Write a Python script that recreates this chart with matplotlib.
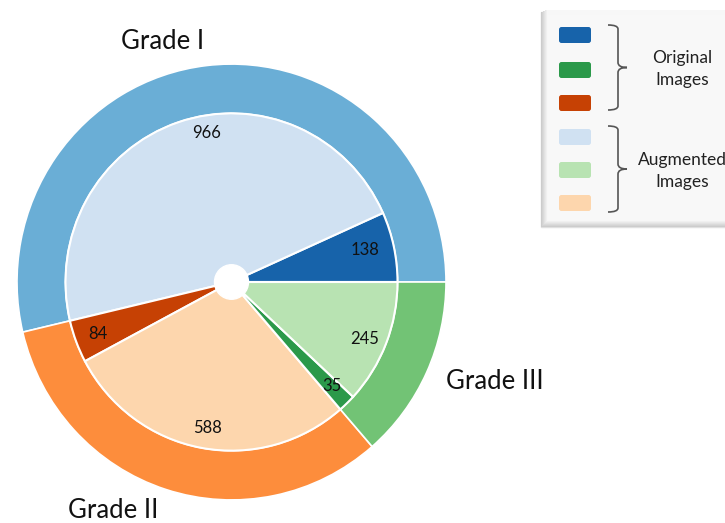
import matplotlib
matplotlib.use("Agg")
import matplotlib.pyplot as plt
import numpy as np
from matplotlib.patches import FancyBboxPatch, Circle, Rectangle
from matplotlib.path import Path
from matplotlib.patches import PathPatch

plt.rcParams['font.family'] = ['Lato', 'DejaVu Sans']

# ---- data ----
grades = ["Grade I", "Grade II", "Grade III"]
original = [138, 84, 35]
augmented = [966, 588, 245]
outer_colors = ["#6aaed6", "#fd8d3c", "#72c375"]
orig_colors = ["#1763aa", "#c64104", "#2b994a"]
aug_colors = ["#d0e1f2", "#fdd6ad", "#b8e3b2"]
legend_groups = ["Original\nImages", "Augmented\nImages"]

inner_vals = []
inner_cols = []
for o, a, co, ca in zip(original, augmented, orig_colors, aug_colors):
    inner_vals += [o, a]
    inner_cols += [co, ca]
outer_vals = [o + a for o, a in zip(original, augmented)]

W, H = 725, 523
S = 1.016  # slight vertical stretch seen in the reference


def Y(y):
    return (H - y) / S


fig = plt.figure(figsize=(W / 100, H / 100), dpi=100)
ax = fig.add_axes([0, 0, 1, 1])

cx, cy = 231.5, Y(282)
R_out = 214.5
R_in = 166

ax.pie(outer_vals, radius=R_out, center=(cx, cy), colors=outer_colors,
       startangle=0, counterclock=True,
       wedgeprops=dict(width=R_out - R_in, edgecolor='white', linewidth=1.2),
       frame=True)
wedges, _ = ax.pie(inner_vals, radius=R_in, center=(cx, cy), colors=inner_cols,
                   startangle=0, counterclock=True,
                   wedgeprops=dict(edgecolor='white', linewidth=1.5),
                   frame=True)
ax.add_patch(Circle((cx, cy), 17, facecolor='white', edgecolor='white', zorder=5))
ax.set_xlim(0, W)
ax.set_ylim(0, H / S)
ax.set_aspect(S)
ax.axis('off')

# value labels: angle offset (deg) and radius per inner wedge
ang_off = [1, -9, 0.5, 1, 0.5, -1.3]
r_lab = [137, 149, 143, 146, 143, 144]
for w, v, da, rl in zip(wedges, inner_vals, ang_off, r_lab):
    th = np.deg2rad((w.theta1 + w.theta2) / 2 + da)
    ax.text(cx + rl * np.cos(th), cy + rl * np.sin(th), str(v),
            ha='center', va='center', fontsize=12, color='#111111', zorder=6)

# grade labels
grade_pos = [(163, 42), (113, 510), (495, 382)]
for g, (x, y) in zip(grades, grade_pos):
    ax.text(x, Y(y), g, ha='center', va='center', fontsize=18.5, color='#111111')

# ---- legend box (bevelled) ----
bx0, by0, bx1, by1 = 541, 12, 745, 227
ax.add_patch(Rectangle((bx0, Y(by1)), bx1 - bx0, (by1 - by0) / S,
                       facecolor='#ffffff', edgecolor='#e0e0e0', linewidth=1, zorder=7))
n = 7
for k in range(n):
    g = 0.80 + 0.17 * k / (n - 1)
    ax.add_patch(Rectangle((bx0 + k, Y(by1 - k)), bx1 - bx0 - k, (by1 - by0 - k * 0.6) / S,
                           facecolor=(g, g, g), edgecolor='none', zorder=7))
ax.add_patch(Rectangle((bx0 + n, Y(by1 - n)), bx1 - bx0 - n, (by1 - by0 - n - 3) / S,
                       facecolor='#f8f8f8', edgecolor='none', zorder=8))

sw_cols = orig_colors[:1] + [orig_colors[2], orig_colors[1]] + [aug_colors[0], aug_colors[2], aug_colors[1]]
sw_y = [26, 61, 94, 128, 161, 194]
for c, y in zip(sw_cols, sw_y):
    ax.add_patch(FancyBboxPatch((559, Y(y + 17)), 32, 16 / S,
                                boxstyle='round,pad=0,rounding_size=2.5',
                                facecolor=c, edgecolor='none', zorder=9))


def brace(y0, y1, x0=608, x1=618, xt=627):
    ym = (y0 + y1) / 2
    verts = [(x0, Y(y0)), (x1, Y(y0)), (x1, Y(y0 + 4)),
             (x1, Y(ym - 5)),
             (x1, Y(ym)), (xt, Y(ym)), (xt, Y(ym)),
             (x1, Y(ym)), (x1, Y(ym + 5)),
             (x1, Y(y1 - 4)),
             (x1, Y(y1)), (x0, Y(y1))]
    codes = [Path.MOVETO, Path.CURVE3, Path.CURVE3,
             Path.LINETO,
             Path.CURVE3, Path.CURVE3, Path.MOVETO,
             Path.CURVE3, Path.CURVE3,
             Path.LINETO,
             Path.CURVE3, Path.CURVE3]
    ax.add_patch(PathPatch(Path(verts, codes), facecolor='none',
                           edgecolor='#555555', linewidth=1.2, zorder=9))


brace(25, 110)
brace(126, 212)

ax.text(682, Y(69), legend_groups[0], ha='center', va='center', fontsize=12.5,
        color='#222222', linespacing=1.45, zorder=10)
ax.text(682, Y(171), legend_groups[1], ha='center', va='center', fontsize=12.5,
        color='#222222', linespacing=1.45, zorder=10)

fig.savefig("out.png", dpi=100)
